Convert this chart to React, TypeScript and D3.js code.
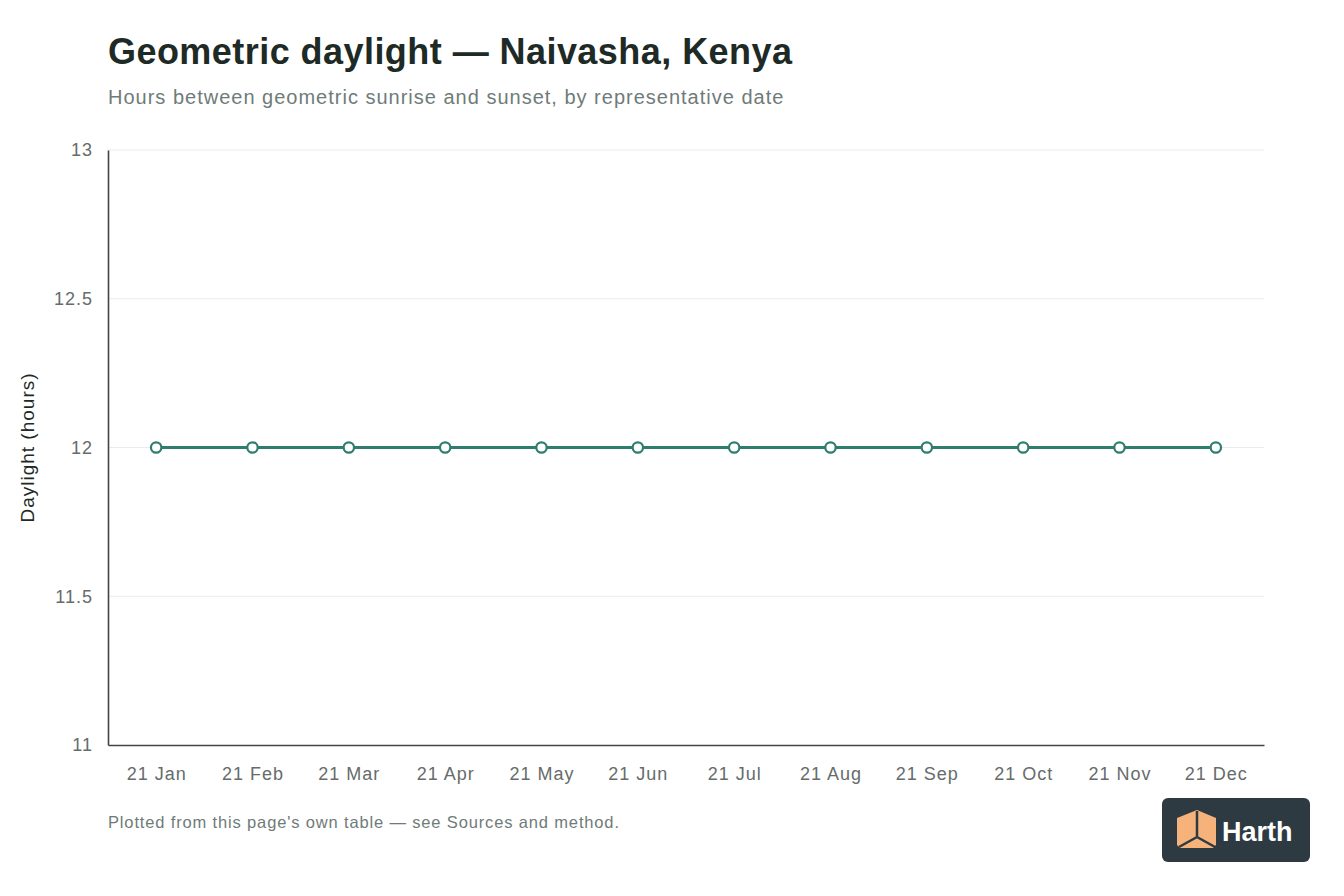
import React from 'react';
import { select, scalePoint, scaleLinear, axisLeft, axisBottom, line } from 'd3';

const dates = ['21 Jan', '21 Feb', '21 Mar', '21 Apr', '21 May', '21 Jun', '21 Jul', '21 Aug', '21 Sep', '21 Oct', '21 Nov', '21 Dec'];
const daylight = [12, 12, 12, 12, 12, 12, 12, 12, 12, 12, 12, 12];
const yTicks = [11, 11.5, 12, 12.5, 13];

const W = 1344;
const H = 896;
const margin = { top: 150, right: 80, bottom: 151, left: 108 };
const FONT = '"Liberation Sans", Arial, Helvetica, sans-serif';
const TEAL = '#2f7d6e';

export default function App() {
  const svgRef = React.useRef<SVGSVGElement>(null);

  React.useEffect(() => {
    const svg = select(svgRef.current);
    const innerW = W - margin.left - margin.right;
    const innerH = H - margin.top - margin.bottom;

    const xScale = scalePoint<string>().domain(dates).range([0, innerW]).padding(0.5);
    const yScale = scaleLinear().domain([11, 13]).range([innerH, 0]);

    const g = svg.select<SVGGElement>('.plot').attr('transform', `translate(${margin.left},${margin.top})`);

    // gridlines
    g.select('.grid')
      .selectAll('line')
      .data(yTicks.filter(t => t > 11))
      .join('line')
      .attr('x1', 0)
      .attr('x2', innerW)
      .attr('y1', d => yScale(d))
      .attr('y2', d => yScale(d))
      .attr('stroke', '#e9ecec')
      .attr('stroke-width', 1.2);

    const yAxis = axisLeft(yScale).tickValues(yTicks).tickSize(0).tickPadding(15).tickFormat(d => String(d));
    const ya = g.select<SVGGElement>('.y-axis').call(yAxis as any);
    ya.select('.domain').attr('stroke', '#444').attr('stroke-width', 1.6);
    ya.selectAll('text')
      .attr('font-family', FONT)
      .attr('font-size', 18)
      .attr('letter-spacing', 1)
      .attr('fill', '#666c6b');

    const xAxis = axisBottom(xScale).tickSize(0).tickPadding(22);
    const xa = g.select<SVGGElement>('.x-axis').attr('transform', `translate(0,${innerH})`).call(xAxis as any);
    xa.select('.domain').attr('stroke', '#444').attr('stroke-width', 1.6);
    xa.selectAll('text')
      .attr('font-family', FONT)
      .attr('font-size', 18)
      .attr('letter-spacing', 1)
      .attr('fill', '#666c6b');

    const myLine = line<number>()
      .x((_, i) => xScale(dates[i]) as number)
      .y(d => yScale(d));

    g.select('.series')
      .selectAll('path')
      .data([daylight])
      .join('path')
      .attr('d', myLine)
      .attr('fill', 'none')
      .attr('stroke', TEAL)
      .attr('stroke-width', 3);

    g.select('.series')
      .selectAll('circle')
      .data(daylight)
      .join('circle')
      .attr('cx', (_, i) => xScale(dates[i]) as number)
      .attr('cy', d => yScale(d))
      .attr('r', 5.2)
      .attr('fill', '#fff')
      .attr('stroke', TEAL)
      .attr('stroke-width', 2.2);
  }, []);

  return (
    <svg
      ref={svgRef}
      width={W}
      height={H}
      style={{ position: 'absolute', left: 0, top: 0, background: '#fff' }}
    >
      <rect width={W} height={H} fill="#fff" />
      <text x={108} y={64} fontFamily={FONT} fontSize={36} fontWeight={600} letterSpacing={0.45} fill="#1e2a26">
        Geometric daylight — Naivasha, Kenya
      </text>
      <text x={108} y={104} fontFamily={FONT} fontSize={20} letterSpacing={1} fill="#6f7b79">
        Hours between geometric sunrise and sunset, by representative date
      </text>
      <text
        transform="translate(34,447.5) rotate(-90)"
        textAnchor="middle"
        fontFamily={FONT}
        fontSize={19}
        letterSpacing={1}
        fill="#1e2a26"
      >
        Daylight (hours)
      </text>
      <g className="plot">
        <g className="grid" />
        <g className="x-axis" />
        <g className="y-axis" />
        <g className="series" />
      </g>
      <text x={108} y={828} fontFamily={FONT} fontSize={16.5} letterSpacing={0.85} fill="#6f7b79">
        Plotted from this page's own table — see Sources and method.
      </text>
      <g className="logo">
        <rect x={1162} y={798} width={148} height={64} rx={6} fill="#2d3a42" />
        <path d="M1197,810 L1216,818 L1216,845 L1213,848 L1180,848 L1177,845 L1177,818 Z" fill="#f6b27b" />
        <path d="M1197,811 L1197,837 M1197,837 L1179,847 M1197,837 L1215,847" stroke="#2d3a42" strokeWidth={2.5} fill="none" />
        <text x={1222} y={841} fontFamily={FONT} fontSize={27} fontWeight={700} fill="#fff">
          Harth
        </text>
      </g>
    </svg>
  );
}
